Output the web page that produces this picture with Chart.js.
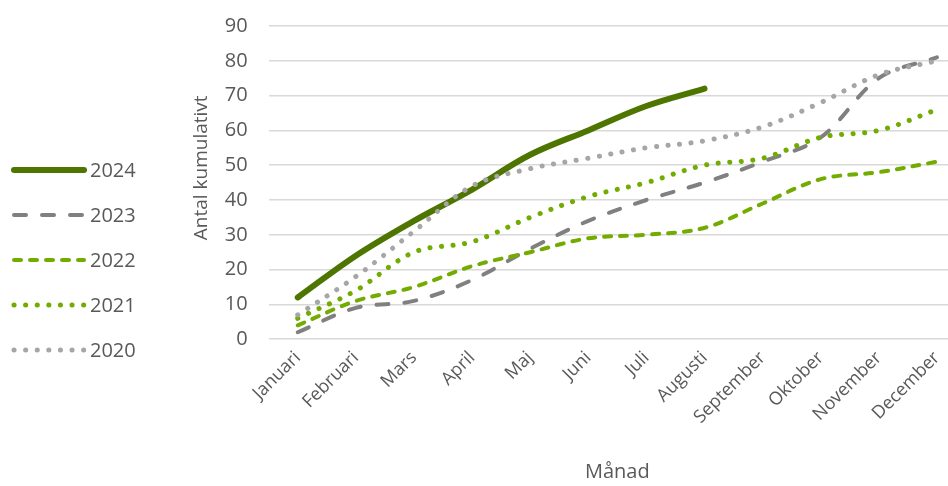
<!DOCTYPE html>
<html>
<head>
<meta charset="utf-8">
<script src="https://cdn.jsdelivr.net/npm/chart.js@4.4.1/dist/chart.umd.min.js"></script>
<style>
  html, body { margin: 0; padding: 0; background: #fff; width: 948px; height: 486px; overflow: hidden; }
  #wrap { position: absolute; left: 0; top: 0; width: 980px; height: 486px; }
</style>
</head>
<body>
<div id="wrap"><canvas id="chart" width="980" height="486"></canvas></div>
<script>
"use strict";

/* ── Data ─────────────────────────────────────────────────────── */
const MONTHS = ["Januari", "Februari", "Mars", "April", "Maj", "Juni",
                "Juli", "Augusti", "September", "Oktober", "November", "December"];

const Y2024 = [12, 24, 34, 43, 53, 60, 67, 72, null, null, null, null];
const Y2023 = [2, 9, 11, 17, 26, 34, 40, 45, 51, 58, 75, 81];
const Y2022 = [4, 11, 15, 21, 25, 29, 30, 32, 39, 46, 48, 51];
const Y2021 = [6, 14, 25, 28, 35, 41, 45, 50, 52, 58, 60, 66];
const Y2020 = [7, 18, 31, 44, 49, 52, 55, 57, 61, 68, 76, 80];

const Y_TICKS = [0, 10, 20, 30, 40, 50, 60, 70, 80, 90];

/* ── Styles ───────────────────────────────────────────────────── */
const DARK_GREEN  = "#4E7500";
const LIGHT_GREEN = "#72AC00";
const GREY_DARK   = "#808080";
const GREY_LIGHT  = "#A6A6A6";
const TEXT_COLOR  = "#595959";
const GRID_COLOR  = "#D9D9D9";
const FONT        = "'Open Sans', 'DejaVu Sans', sans-serif";
const NBSP        = "\u00A0";

function series(label, data, color, width, dash) {
  return {
    label, data,
    borderColor: color,
    backgroundColor: color,
    borderWidth: width,
    borderDash: dash,
    borderCapStyle: "round",
    borderJoinStyle: "round",
    pointRadius: 0,
    pointHoverRadius: 0,
    tension: 0.35,
    fill: false,
    spanGaps: false,
  };
}

/* Excel ritar senare serier överst → 2020 sist */
const datasets = [
  series("2024", Y2024, DARK_GREEN, 6, []),
  series("2023", Y2023, GREY_DARK, 4, [12, 16]),
  series("2022", Y2022, LIGHT_GREEN, 4, [7, 9]),
  series("2021", Y2021, LIGHT_GREEN, 5, [0.1, 11.5]),
  series("2020", Y2020, GREY_LIGHT, 5, [0.1, 11.5]),
];
datasets.forEach((d, i) => { d.order = datasets.length - i; });

/* ── Legend till vänster (ritas som linjeprov) ────────────────── */
const sideLegend = {
  id: "sideLegend",
  afterDraw(chart) {
    const { ctx } = chart;
    const x0 = 14, x1 = 84, top = 170, step = 45;
    chart.data.datasets.forEach((ds, i) => {
      const y = top + i * step;
      ctx.save();
      ctx.strokeStyle = ds.borderColor;
      ctx.lineWidth = ds.borderWidth;
      ctx.lineCap = "round";
      ctx.setLineDash(ds.borderDash || []);
      ctx.beginPath();
      ctx.moveTo(x0, y);
      ctx.lineTo(x1, y);
      ctx.stroke();
      ctx.setLineDash([]);
      ctx.fillStyle = TEXT_COLOR;
      ctx.font = "20px " + FONT;
      ctx.textAlign = "left";
      ctx.textBaseline = "middle";
      ctx.fillText(ds.label, 90, y + 1);
      ctx.restore();
    });
  }
};

new Chart(document.getElementById("chart"), {
  type: "line",
  plugins: [sideLegend],
  data: { labels: MONTHS, datasets },
  options: {
    responsive: false,
    animation: false,
    devicePixelRatio: 1,
    layout: { padding: { left: 190, right: 14, top: 26, bottom: 2 } },
    scales: {
      x: {
        offset: true,
        grid: { display: false, drawTicks: false },
        border: { display: false },
        ticks: {
          color: TEXT_COLOR,
          font: { family: FONT, size: 18 },
          minRotation: 45, maxRotation: 45,
          padding: 8,
          autoSkip: false,
        },
        title: {
          display: true,
          text: "Månad",
          color: TEXT_COLOR,
          font: { family: FONT, size: 20 },
          padding: { top: 24, bottom: 0 },
        },
      },
      y: {
        min: 0, max: 90,
        afterBuildTicks: axis => { axis.ticks = Y_TICKS.map(v => ({ value: v })); },
        grid: { color: GRID_COLOR, lineWidth: 1.5, drawTicks: true, tickLength: 19, tickColor: "rgba(0,0,0,0)" },
        border: { display: false },
        ticks: {
          color: TEXT_COLOR,
          font: { family: FONT, size: 20 },
          padding: 2,
        },
        title: {
          display: true,
          text: NBSP.repeat(6) + "Antal kumulativt",
          color: TEXT_COLOR,
          font: { family: FONT, size: 19 },
          padding: { top: 0, bottom: 10 },
        },
      },
    },
    plugins: {
      legend: { display: false },
      tooltip: { enabled: false },
    },
  },
});
</script>
</body>
</html>
